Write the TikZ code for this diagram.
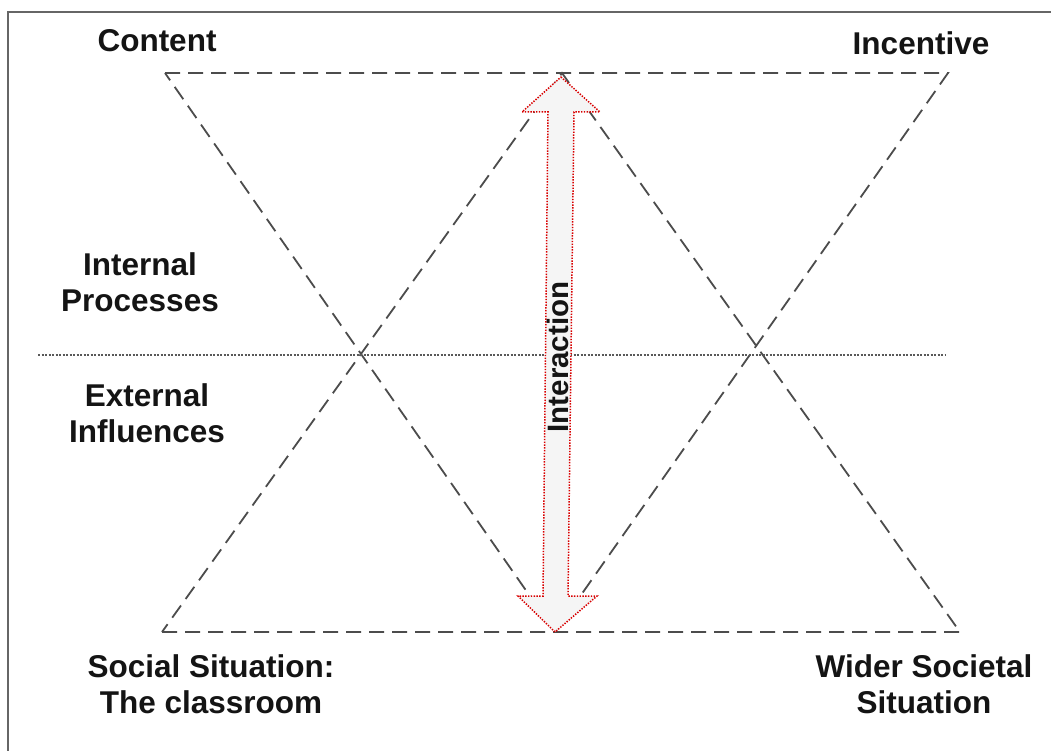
\documentclass[tikz,border=0pt]{standalone}
\usepackage{fontspec}
\setmainfont{Liberation Sans}
\begin{document}
\begin{tikzpicture}[x=1pt,y=-1pt,
  lbl/.style={font=\fontsize{31.5}{36}\selectfont\bfseries, align=center, inner sep=0pt, text=black!92},
  tri/.style={draw=black!70, line width=1.8pt, dash pattern=on 15pt off 8pt},
  divider/.style={draw=black!65, line width=1.2pt, dash pattern=on 2pt off 1.5pt},
  frame/.style={draw=black!60, line width=2pt},
  arrowbody/.style={draw=red!85!black, fill=black!4, line width=1.5pt, dash pattern=on 1.4pt off 1.4pt, line join=miter}]
\useasboundingbox (0,0) rectangle (1051,751);
\fill[white] (0,0) rectangle (1051,751);
% frame (cropped box: only left and top edges visible)
\coordinate (fa) at (8,751);
\coordinate (fb) at (8,12);
\coordinate (fc) at (1051,12);
\draw[frame] (fa) -- (fb) -- (fc);
% inverted triangle
\coordinate (t1) at (165,73);
\coordinate (t2) at (948,73);
\coordinate (t3) at (555,632);
\draw[tri] (t1) -- (t2) -- (t3) -- cycle;
% upright triangle
\coordinate (b1) at (162,632);
\coordinate (b2) at (960,632);
\coordinate (b3) at (562,73);
\draw[tri] (b1) -- (b2) -- (b3) -- cycle;
% divider
\coordinate (d1) at (38,355);
\coordinate (d2) at (946,355);
\draw[divider] (d1) -- (d2);
% double arrow
\draw[arrowbody] (561,77) -- (600,112) -- (574,112) -- (568,596) -- (597,596)
  -- (555,632) -- (518,596) -- (543,596) -- (548,112) -- (522,112) -- cycle;
\node[lbl, rotate=90, font=\fontsize{29.5}{34}\selectfont\bfseries] (inter) at (558,357) {Interaction};
% labels
\node[lbl] (content) at (157,41) {Content};
\node[lbl] (incentive) at (921,43) {Incentive};
\node[lbl] (internal) at (140,282) {Internal\\Processes};
\node[lbl] (external) at (147,413) {External\\Influences};
\node[lbl] (social) at (211,684) {Social Situation:\\The classroom};
\node[lbl] (wider) at (924,684) {Wider Societal\\Situation};
\end{tikzpicture}
\end{document}
